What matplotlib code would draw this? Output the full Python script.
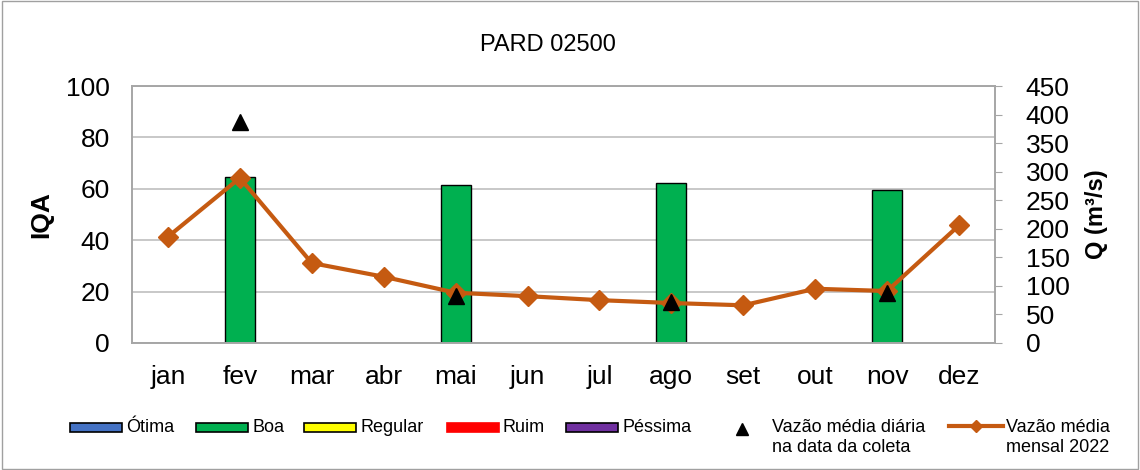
import matplotlib.pyplot as plt
import matplotlib.patches as mpatches
from matplotlib.lines import Line2D
import numpy as np

plt.rcParams["font.family"] = ["Liberation Sans", "DejaVu Sans"]

# %%
months = ["jan", "fev", "mar", "abr", "mai", "jun", "jul", "ago", "set", "out", "nov", "dez"]
iqa = [np.nan, 64.6, np.nan, np.nan, 61.5, np.nan, np.nan, 62.3, np.nan, np.nan, 59.5, np.nan]
vazao_mensal = [186, 289, 140, 116, 88, 82, 75, 70, 66, 95, 91, 206]
vazao_coleta = [np.nan, 387, np.nan, np.nan, 83, np.nan, np.nan, 72, np.nan, np.nan, 88, np.nan]

GREEN = "#00B050"
ORANGE = "#C55A11"
GRID = "#BFBFBF"
W, H = 1140, 470

# %%
fig = plt.figure(figsize=(W / 100, H / 100), dpi=100)
fig.patches.append(
    mpatches.Rectangle((0.002, 0.003), 0.996, 0.994, transform=fig.transFigure,
                       fill=False, edgecolor="#A0A0A0", linewidth=1)
)
ax = fig.add_axes([132 / W, 1 - 343 / H, (995 - 132) / W, (343 - 86) / H])
x = np.arange(len(months))

ax.bar(x, iqa, width=0.42, color=GREEN, edgecolor="black", linewidth=1, zorder=2)
ax.set_ylim(0, 100)
ax.set_xlim(-0.5, 11.5)
ax.set_yticks(range(0, 101, 20))
ax.yaxis.grid(True, color=GRID, linewidth=1.2, zorder=0)
ax.set_axisbelow(True)
ax.set_xticks(x)
ax.set_xticklabels(months, fontsize=19)
ax.tick_params(axis="x", length=0, pad=16)
ax.tick_params(axis="y", length=0, labelsize=19, pad=16)
ax.set_ylabel("IQA", fontsize=19, fontweight="bold", labelpad=9)
for s in ax.spines.values():
    s.set_color("#A6A6A6")
    s.set_linewidth(1.2)

ax2 = ax.twinx()
ax2.plot(x, vazao_mensal, color=ORANGE, linewidth=3, marker="D", markersize=10, zorder=3)
ax2.plot(x, vazao_coleta, linestyle="none", marker="^", color="black", markersize=11, zorder=4)
ax2.set_ylim(0, 450)
ax2.set_yticks(range(0, 451, 50))
ax2.tick_params(axis="y", length=5, color="#A6A6A6", labelsize=19, pad=17)
ax2.set_ylabel("Q (m³/s)", fontsize=17, fontweight="bold", labelpad=11)
for s in ax2.spines.values():
    s.set_color("#A6A6A6")
    s.set_linewidth(1.2)

fig.text(548 / W, 1 - 45 / H, "PARD 02500", ha="center", va="center", fontsize=17)

# %% legend drawn by hand to follow the Excel layout
legend_items = [
    ("patch", "#4472C4", "black", "Ótima", 70),
    ("patch", GREEN, "black", "Boa", 196),
    ("patch", "#FFFF00", "black", "Regular", 304),
    ("patch", "#FF0000", "#FF0000", "Ruim", 447),
    ("patch", "#7030A0", "black", "Péssima", 566),
    ("tri", "black", "black", "Vazão média diária\nna data da coleta", 716),
    ("line", ORANGE, ORANGE, "Vazão média\nmensal 2022", 949),
]
handle_w = 52
for kind, fc, ec, label, x0 in legend_items:
    if kind == "patch":
        fig.patches.append(
            mpatches.Rectangle((x0 / W, 1 - 432 / H), handle_w / W, 9 / H,
                               transform=fig.transFigure, facecolor=fc,
                               edgecolor=ec, linewidth=1.2)
        )
        tx = x0 + handle_w + 4
    elif kind == "tri":
        fig.add_artist(Line2D([(x0 + 26) / W], [1 - 429 / H], transform=fig.transFigure,
                              marker="^", color="black", markersize=8, linestyle="none"))
        tx = 772
    else:
        fig.add_artist(Line2D([x0 / W, (x0 + 54) / W], [1 - 426 / H] * 2,
                              transform=fig.transFigure, color=ORANGE, linewidth=3))
        fig.add_artist(Line2D([(x0 + 27) / W], [1 - 426 / H], transform=fig.transFigure,
                              marker="D", color=ORANGE, markersize=6, linestyle="none"))
        tx = x0 + 57
    fig.text(tx / W, 1 - 419 / H, label, ha="left", va="top",
             fontsize=13, linespacing=1.2)

fig.savefig("out.png", dpi=100)
